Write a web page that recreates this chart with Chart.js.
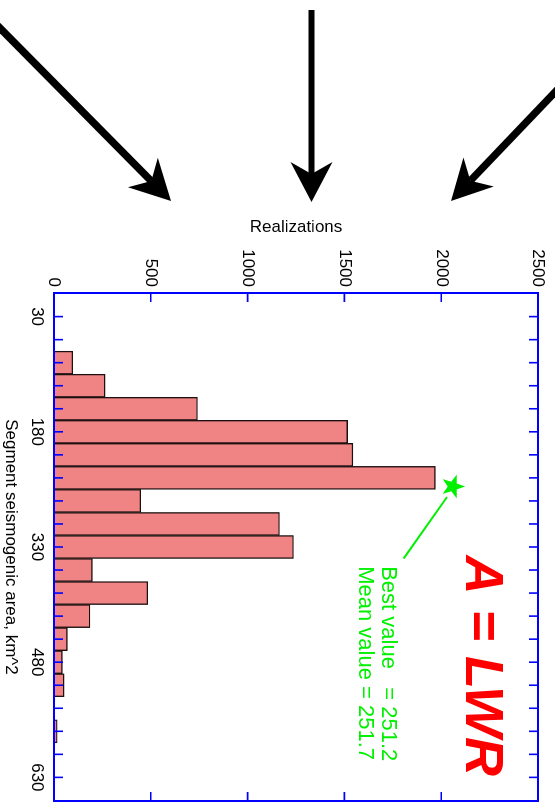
<!DOCTYPE html>
<html>
<head>
<meta charset="utf-8">
<script src="https://cdn.jsdelivr.net/npm/chart.js@4.4.0/dist/chart.umd.min.js"></script>
<style>
  html, body { margin: 0; padding: 0; background: #fff; }
  body { width: 555px; height: 803px; overflow: hidden; position: relative; }
  /* the chart is drawn lying down and turned a quarter turn clockwise */
  #chart { position: absolute; left: 0; top: 0; transform-origin: 0 0; transform: translate(555px, 0) rotate(90deg); }
  #arrows { position: absolute; left: 0; top: 0; }
</style>
</head>
<body>
<canvas id="chart" width="860" height="555"></canvas>
<canvas id="arrows" width="555" height="215"></canvas>
<script>
// histogram: bin centres (km^2) and number of realizations
const binCenters = [90, 120, 150, 180, 210, 240, 270, 300, 330, 360, 390, 420, 450, 480, 510, 540, 570];
const counts     = [97, 264, 741, 1517, 1544, 1970, 448, 1165, 1237, 198, 484, 186, 69, 43, 52, 0, 17];

// axis ticks
const areaTicks = [30, 60, 90, 120, 150, 180, 210, 240, 270, 300, 330, 360, 390, 420, 450, 480, 510, 540, 570, 600, 630];
const areaLabels = [30, 180, 330, 480, 630];
const realizationTicks = [0, 500, 1000, 1500, 2000, 2500];

// annotation
const bestValue = 251.2;
const meanValue = 251.7;
const starRealizations = 2060;
const leaderArea = [265, 345];
const leaderRealizations = [2030, 1806];
const noteArea = 355;
const noteRealizations = [1694, 1575];
const formulaArea = 341;
const formulaRealizations = 2130;

const GREEN = '#00f000';
const FONT = 'Liberation Sans, Arial, Helvetica, sans-serif';
Chart.defaults.font.family = FONT;
Chart.defaults.color = '#000';

// blue box with ticks pointing inwards on all four sides
const frame = {
  id: 'frame',
  afterDatasetsDraw(chart) {
    const { ctx, chartArea: a, scales: { x, y } } = chart;
    ctx.save();
    ctx.strokeStyle = '#0000ff';
    ctx.lineWidth = 2;
    ctx.strokeRect(a.left, a.top, a.right - a.left, a.bottom - a.top);
    ctx.lineWidth = 1.6;
    ctx.beginPath();
    areaTicks.forEach(v => {
      const px = x.getPixelForValue(v);
      ctx.moveTo(px, a.bottom); ctx.lineTo(px, a.bottom - 9);
      ctx.moveTo(px, a.top); ctx.lineTo(px, a.top + 9);
    });
    realizationTicks.slice(1, -1).forEach(v => {
      const py = y.getPixelForValue(v);
      ctx.moveTo(a.left, py); ctx.lineTo(a.left + 9, py);
      ctx.moveTo(a.right, py); ctx.lineTo(a.right - 9, py);
    });
    ctx.stroke();
    ctx.restore();
  }
};

// star, leader line and texts
const notes = {
  id: 'notes',
  afterDraw(chart) {
    const { ctx, scales: { x, y } } = chart;
    ctx.save();
    ctx.strokeStyle = GREEN;
    ctx.fillStyle = GREEN;
    ctx.lineWidth = 2;
    ctx.beginPath();
    ctx.moveTo(x.getPixelForValue(leaderArea[0]), y.getPixelForValue(leaderRealizations[0]));
    ctx.lineTo(x.getPixelForValue(leaderArea[1]), y.getPixelForValue(leaderRealizations[1]));
    ctx.stroke();

    const cx = x.getPixelForValue(bestValue);
    const cy = y.getPixelForValue(starRealizations);
    ctx.beginPath();
    for (let i = 0; i < 10; i++) {
      const r = i % 2 ? 5 : 12.5;
      const ang = -Math.PI / 2 + i * Math.PI / 5;
      ctx.lineTo(cx + r * Math.cos(ang), cy + r * Math.sin(ang));
    }
    ctx.closePath();
    ctx.fill();

    ctx.font = '22px ' + FONT;
    ctx.textAlign = 'left';
    ctx.textBaseline = 'alphabetic';
    ctx.fillText('Best value   = ' + bestValue, x.getPixelForValue(noteArea), y.getPixelForValue(noteRealizations[0]));
    ctx.fillText('Mean value = ' + meanValue, x.getPixelForValue(noteArea), y.getPixelForValue(noteRealizations[1]));

    ctx.fillStyle = '#ff0000';
    ctx.font = 'italic bold 54px ' + FONT;
    ctx.fillText('A = LWR', x.getPixelForValue(formulaArea), y.getPixelForValue(formulaRealizations));
    ctx.restore();
  }
};

new Chart(document.getElementById('chart'), {
  type: 'bar',
  data: {
    datasets: [{
      data: binCenters.map((c, i) => ({ x: c, y: counts[i] > 0 ? counts[i] : null })),
      backgroundColor: '#f08484',
      borderColor: '#1e1010',
      borderWidth: 1.4,
      borderSkipped: false,
      barPercentage: 1,
      categoryPercentage: 1
    }]
  },
  options: {
    responsive: false,
    animation: false,
    events: [],
    layout: { padding: { left: 217, top: 17, right: 59, bottom: 0 } },
    plugins: { legend: { display: false }, tooltip: { enabled: false } },
    scales: {
      x: {
        type: 'linear',
        min: 15,
        max: 645,
        grid: { display: false, drawTicks: false },
        border: { display: false },
        afterBuildTicks: scale => { scale.ticks = areaTicks.map(v => ({ value: v })); },
        afterFit: scale => { scale.height = 54; },
        ticks: {
          autoSkip: false,
          maxRotation: 0,
          padding: 7,
          font: { size: 17 },
          callback: v => areaLabels.includes(v) ? String(v) : ''
        },
        title: {
          display: true,
          text: 'Segment seismogenic area, km^2',
          font: { size: 17 },
          padding: { top: 0, bottom: 0 }
        }
      },
      y: {
        min: 0,
        max: 2500,
        grid: { display: false, drawTicks: false },
        border: { display: false },
        afterBuildTicks: scale => { scale.ticks = realizationTicks.map(v => ({ value: v })); },
        afterFit: scale => { scale.width = 76; },
        ticks: { padding: 6, font: { size: 17 }, callback: v => String(v) },
        title: {
          display: true,
          text: 'Realizations',
          font: { size: 17 },
          padding: { top: 0, bottom: 0 }
        }
      }
    }
  },
  plugins: [frame, notes]
});

// the three black arrows above the plot
function arrow(ctx, x0, y0, x1, y1, w) {
  const len = Math.hypot(x1 - x0, y1 - y0);
  const ux = (x1 - x0) / len, uy = (y1 - y0) / len;
  const nx = -uy, ny = ux;
  const head = 40, half = 21, notch = 28;
  ctx.lineWidth = w;
  ctx.beginPath();
  ctx.moveTo(x0, y0);
  ctx.lineTo(x1 - ux * notch, y1 - uy * notch);
  ctx.stroke();
  ctx.beginPath();
  ctx.moveTo(x1, y1);
  ctx.lineTo(x1 - ux * head + nx * half, y1 - uy * head + ny * half);
  ctx.lineTo(x1 - ux * notch, y1 - uy * notch);
  ctx.lineTo(x1 - ux * head - nx * half, y1 - uy * head - ny * half);
  ctx.closePath();
  ctx.fill();
}

const actx = document.getElementById('arrows').getContext('2d');
actx.strokeStyle = '#000';
actx.fillStyle = '#000';
arrow(actx, -4, 24, 171, 201, 7.5);
arrow(actx, 311.5, 10, 311.5, 202, 6);
arrow(actx, 559, 88, 451, 201, 7.5);
</script>
</body>
</html>
